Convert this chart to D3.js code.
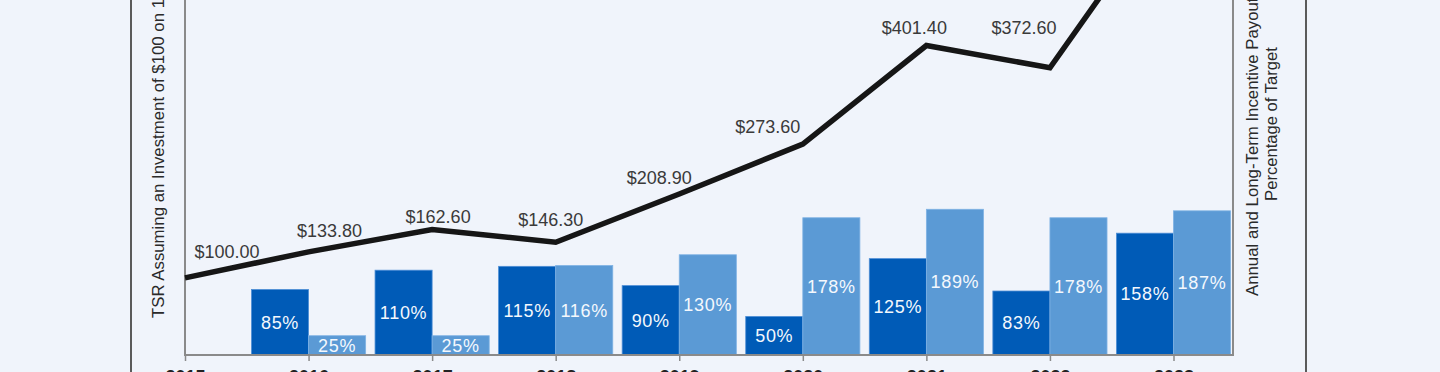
<!DOCTYPE html>
<html>
<head>
<meta charset="utf-8">
<script src="https://cdn.jsdelivr.net/npm/d3@7"></script>
<style>
  html, body { margin: 0; padding: 0; background: #f0f4fb; overflow: hidden; }
  svg { display: block; font-family: "Liberation Sans", Arial, sans-serif; }
</style>
</head>
<body>
<div id="chart"></div>
<script>
// chart values
const years = [2015, 2016, 2017, 2018, 2019, 2020, 2021, 2022, 2023]
const tsrValues = [100.0, 133.8, 162.6, 146.3, 208.9, 273.6, 401.4, 372.6, 599.0]
const annualPayout = [null, 85, 110, 115, 90, 50, 125, 83, 158]
const ltiPayout = [null, 25, 25, 116, 130, 178, 189, 178, 187]

// hand placed value labels (dx from point, dy of baseline from point)
const labelNudges = [[42, -20], [21, -15], [6, -7], [-5, -16], [-20, -10], [-35, -11], [-12, -12], [-26, -34], [0, -12]]

const width = 1440
const height = 372
const plot = { left: 185, right: 1233, bottom: 355 }

const svg = d3.select('#chart').append('svg')
    .attr('width', width)
    .attr('height', height)

svg.append('rect')
    .attr('width', width)
    .attr('height', height)
    .attr('fill', '#f0f4fb')

const x = d3.scaleLinear().domain([2015, 2023]).range([185, 1173.5])
const y = d3.scaleLinear().domain([0, 100]).range([plot.bottom, plot.bottom - 77.1])

const step = x(2016) - x(2015)
const bw = step * 0.462

// outer frame lines
svg.selectAll('line.frame')
    .data([131, 1306])
    .enter()
    .append('line')
    .attr('class', 'frame')
    .attr('x1', d => d).attr('x2', d => d)
    .attr('y1', 0).attr('y2', height)
    .attr('stroke', '#5a5a5a')
    .attr('stroke-width', 2)

// bars
const rows = years.map((yr, i) => ({ yr, a: annualPayout[i], l: ltiPayout[i] }))
    .filter(d => d.a != null)

const bars = svg.append('g')
bars.selectAll('rect.annual')
    .data(rows)
    .enter()
    .append('rect')
    .attr('x', d => x(d.yr) - bw)
    .attr('y', d => y(d.a))
    .attr('width', bw)
    .attr('height', d => plot.bottom - y(d.a))
    .attr('fill', '#005bb7')
    .attr('stroke', '#4f8fd6')
    .attr('stroke-width', 0.8)

bars.selectAll('rect.lti')
    .data(rows)
    .enter()
    .append('rect')
    .attr('x', d => x(d.yr))
    .attr('y', d => y(d.l))
    .attr('width', bw)
    .attr('height', d => plot.bottom - y(d.l))
    .attr('fill', '#5b9ad5')
    .attr('stroke', '#7fb2e4')
    .attr('stroke-width', 0.8)

const barText = svg.append('g')
    .attr('fill', '#f4f8fd')
    .attr('font-size', 18)
    .attr('text-anchor', 'middle')
    .attr('letter-spacing', 0.7)

barText.selectAll('text.a')
    .data(rows)
    .enter()
    .append('text')
    .attr('x', d => x(d.yr) - bw / 2)
    .attr('y', d => (y(d.a) + plot.bottom) / 2 + 6.3)
    .text(d => d.a + '%')

barText.selectAll('text.l')
    .data(rows)
    .enter()
    .append('text')
    .attr('x', d => x(d.yr) + bw / 2)
    .attr('y', d => (y(d.l) + plot.bottom) / 2 + 6.3)
    .text(d => d.l + '%')

// plot axes
const axisColor = '#8a8a8a'
svg.append('path')
    .attr('d', `M${plot.left},0V${plot.bottom}H${plot.right}V0`)
    .attr('fill', 'none')
    .attr('stroke', axisColor)
    .attr('stroke-width', 2)

const xAxis = svg.append('g')
    .attr('transform', `translate(0,${plot.bottom})`)
    .call(d3.axisBottom(x).tickValues(years).tickFormat(d3.format('d')).tickSize(6).tickPadding(9))
xAxis.select('.domain').remove()
xAxis.selectAll('line').attr('stroke', axisColor).attr('stroke-width', 1.5)
xAxis.selectAll('text')
    .attr('font-size', 18)
    .attr('font-weight', 'bold')
    .attr('fill', '#222')
    .attr('font-family', '"Liberation Sans", Arial, sans-serif')

// TSR line
const line = d3.line()
    .x((d, i) => x(years[i]))
    .y(d => y(d))

svg.append('path')
    .datum(tsrValues)
    .attr('d', line)
    .attr('fill', 'none')
    .attr('stroke', '#161616')
    .attr('stroke-width', 5.5)
    .attr('stroke-linejoin', 'miter')

svg.append('g')
    .attr('font-size', 18)
    .attr('fill', '#3a3a3a')
    .attr('text-anchor', 'middle')
    .selectAll('text')
    .data(tsrValues)
    .enter()
    .append('text')
    .attr('x', (d, i) => x(years[i]) + labelNudges[i][0])
    .attr('y', (d, i) => y(d) + labelNudges[i][1])
    .text(d => '$' + d3.format('.2f')(d))

// axis titles
svg.append('text')
    .attr('transform', 'translate(163.5,318) rotate(-90)')
    .attr('font-size', 16.8)
    .attr('fill', '#2a2a2a')
    .text('TSR Assuming an Investment of $100 on 12/31/2015')

svg.append('text')
    .attr('transform', 'translate(1257.5,296) rotate(-90)')
    .attr('font-size', 16.8)
    .attr('fill', '#2a2a2a')
    .text('Annual and Long-Term Incentive Payout as a')

svg.append('text')
    .attr('transform', 'translate(1276.7,124) rotate(-90)')
    .attr('font-size', 16.6)
    .attr('fill', '#2a2a2a')
    .attr('text-anchor', 'middle')
    .text('Percentage of Target')
</script>
</body>
</html>
